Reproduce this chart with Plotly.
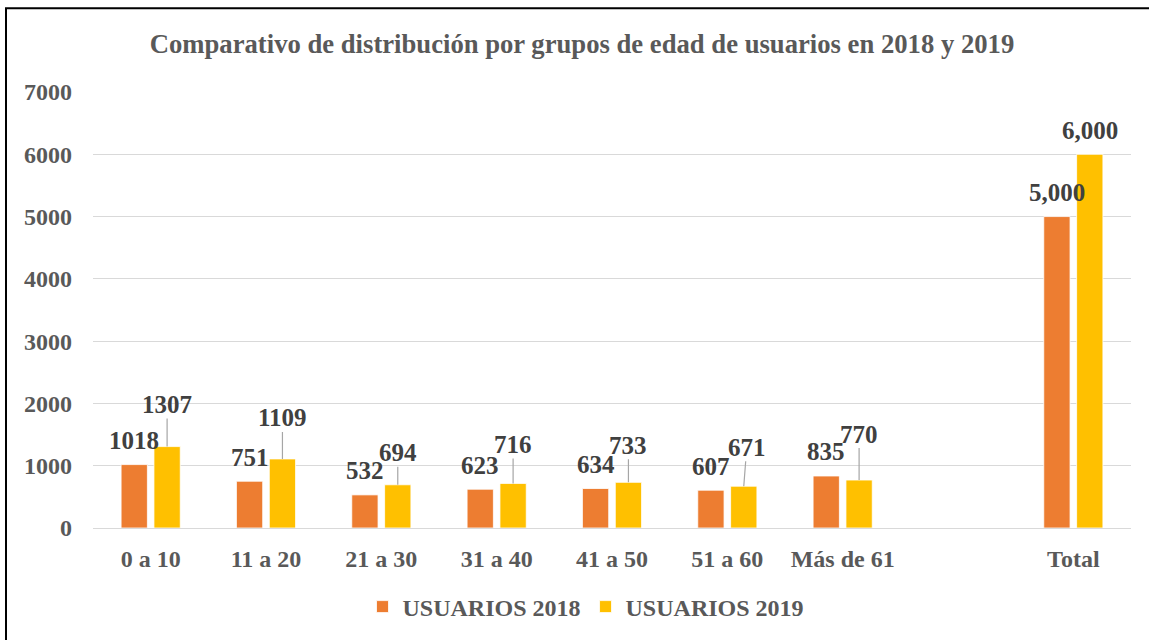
import numpy as np
import plotly.graph_objects as go

# ---- data ----
categories = ["0 a 10", "11 a 20", "21 a 30", "31 a 40", "41 a 50", "51 a 60", "Más de 61", "", "Total"]
usuarios_2018 = [1018, 751, 532, 623, 634, 607, 835, None, 5000]
usuarios_2019 = [1307, 1109, 694, 716, 733, 671, 770, None, 6000]
series_names = ["USUARIOS 2018", "USUARIOS 2019"]
y_ticks = [0, 1000, 2000, 3000, 4000, 5000, 6000, 7000]
title_text = "Comparativo de distribución por grupos de edad de usuarios en 2018 y 2019"

# ---- label placement (style) ----
lbl19_dy = [-42, -41, -32, -39, -37, -39, -46, None, -24]
lbl19_dx = [0, 0, 0, 0, 0, 3, 0, None, 0]
lbl19_leader = [True, True, True, True, True, True, True, False, False]
lbl18_dy = -24

W, H = 1149, 640
ML, MR, MT, MB = 93, 18, 92, 111
FONT = "Liberation Serif, Times New Roman, serif"
C18 = "#ED7D31"
C19 = "#FFC000"
GREY = "#595959"
DARK = "#404040"
BARGAP = 0.43
BARGROUPGAP = 0.2
LBL_SIZE = 25

xpos = np.arange(len(categories))
off = (1 - BARGAP) / 4.0


def fmt(v, cat):
    return f"{v:,}" if cat == "Total" else f"{v}"


fig = go.Figure()
fig.add_trace(go.Bar(x=xpos, y=usuarios_2018, name=f"<b>{series_names[0]}</b>",
                     marker=dict(color=C18, line=dict(color="white", width=0.8))))
fig.add_trace(go.Bar(x=xpos, y=usuarios_2019, name=f"<b>{series_names[1]}</b>",
                     marker=dict(color=C19, line=dict(color="white", width=0.8))))

annotations = []
for i, cat in enumerate(categories):
    v18 = usuarios_2018[i]
    v19 = usuarios_2019[i]
    if v18 is not None:
        annotations.append(dict(x=xpos[i] - off, y=v18, xref="x", yref="y",
                                text=f"<b>{fmt(v18, cat)}</b>", showarrow=False,
                                yshift=-lbl18_dy, xanchor="center", yanchor="middle",
                                font=dict(family=FONT, size=LBL_SIZE, color=DARK)))
    if v19 is not None:
        if lbl19_leader[i]:
            annotations.append(dict(x=xpos[i] + off, y=v19, xref="x", yref="y",
                                    text=f"<b>{fmt(v19, cat)}</b>", showarrow=True,
                                    arrowhead=0, arrowwidth=1.2, arrowcolor="#A6A6A6",
                                    ax=lbl19_dx[i], ay=lbl19_dy[i], standoff=0,
                                    borderpad=0,
                                    font=dict(family=FONT, size=LBL_SIZE, color=DARK)))
        else:
            annotations.append(dict(x=xpos[i] + off, y=v19, xref="x", yref="y",
                                    text=f"<b>{fmt(v19, cat)}</b>", showarrow=False,
                                    yshift=-lbl19_dy[i], xanchor="center", yanchor="middle",
                                    font=dict(family=FONT, size=LBL_SIZE, color=DARK)))

# chart border (top & left visible)
pw = W - ML - MR
ph = H - MT - MB
bx = (6 - ML) / pw
by = (H - MB - 8) / ph

fig.update_layout(
    width=W, height=H,
    margin=dict(l=ML, r=MR, t=MT, b=MB),
    paper_bgcolor="white", plot_bgcolor="white",
    barmode="group", bargap=BARGAP, bargroupgap=BARGROUPGAP,
    font=dict(family=FONT, color=GREY),
    title=dict(text=f"<b>{title_text}</b>", x=582 / W, xref="container", xanchor="center",
               y=1 - 44 / H, yref="container", yanchor="middle",
               font=dict(family=FONT, size=26.67, color=GREY)),
    xaxis=dict(tickmode="array", tickvals=xpos, ticktext=[f"<b>{c}</b>" for c in categories],
               range=[-0.5, len(categories) - 0.5], showgrid=False, zeroline=False,
               showline=False, ticks="", ticklabelstandoff=14,
               tickfont=dict(family=FONT, size=24, color=GREY)),
    yaxis=dict(range=[0, 7000], tickvals=y_ticks, ticktext=[f"<b>{t}</b>" for t in y_ticks],
               showgrid=True, gridcolor="#D9D9D9", gridwidth=1.3, zeroline=True,
               zerolinecolor="#D9D9D9", zerolinewidth=1.3, showline=False, ticks="",
               ticklabelstandoff=20,
               tickfont=dict(family=FONT, size=24, color=GREY)),
    legend=dict(orientation="h", x=(586 - ML) / pw, xanchor="center",
                y=-(607 - (H - MB)) / ph, yanchor="middle",
                font=dict(family=FONT, size=24, color=GREY), bgcolor="rgba(0,0,0,0)",
                itemclick=False),
    annotations=annotations,
    shapes=[dict(type="rect", xref="paper", yref="paper", x0=bx, x1=1.3, y0=-0.5, y1=by,
                 line=dict(color="black", width=2), layer="above")],
    showlegend=True,
)

fig.write_html("out.html", config={"displayModeBar": False},
               post_script="document.body.style.margin='0';document.body.style.overflow='hidden';")
